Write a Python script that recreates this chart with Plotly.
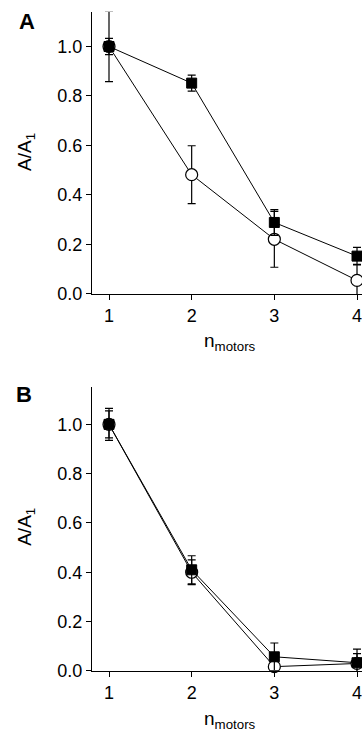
import plotly.graph_objects as go

n_motors = [1, 2, 3, 4]

# Panel A
a_filled = [1.0, 0.852, 0.289, 0.153]
a_filled_err = [0.033, 0.032, 0.052, 0.035]
a_open = [1.0, 0.482, 0.221, 0.055]
a_open_err = [0.142, 0.117, 0.113, 0.065]

# Panel B
b_filled = [1.0, 0.41, 0.057, 0.033]
b_filled_err = [0.065, 0.057, 0.056, 0.055]
b_open = [1.0, 0.40, 0.017, 0.03]
b_open_err = [0.055, 0.05, 0.03, 0.04]

y_ticks = [0.0, 0.2, 0.4, 0.6, 0.8, 1.0]
y_ticklabels = ["0.0", "0.2", "0.4", "0.6", "0.8", "1.0"]

FONT = "Liberation Sans, Arial, sans-serif"
W, H = 362, 743

fig = go.Figure()

def add_pair(xa, ya, filled, ferr, opn, oerr):
    fig.add_trace(go.Scatter(
        x=n_motors, y=opn, xaxis=xa, yaxis=ya, mode="lines+markers",
        line=dict(color="black", width=1),
        marker=dict(symbol="circle", size=12, color="white",
                    line=dict(color="black", width=1.2)),
        error_y=dict(type="data", array=oerr, visible=True, color="black",
                     thickness=1.2, width=4),
        cliponaxis=False, showlegend=False))
    fig.add_trace(go.Scatter(
        x=n_motors, y=filled, xaxis=xa, yaxis=ya, mode="lines+markers",
        line=dict(color="black", width=1),
        marker=dict(symbol="square", size=10, color="black",
                    line=dict(color="black", width=1)),
        error_y=dict(type="data", array=ferr, visible=True, color="black",
                     thickness=1.2, width=4),
        cliponaxis=False, showlegend=False))

add_pair("x", "y", a_filled, a_filled_err, a_open, a_open_err)
add_pair("x2", "y2", b_filled, b_filled_err, b_open, b_open_err)

xdom = [92 / W, 1.0]
xrange = [1 - (109 - 92) / 82.67, 1 + (362 - 109) / 82.67]

def yd(top_px, bottom_px):
    return [(H - bottom_px) / H, (H - top_px) / H]

axis_common = dict(showline=True, linecolor="black", linewidth=1.2,
                   ticks="outside", ticklen=5, tickwidth=1.2, tickcolor="black",
                   showgrid=False, zeroline=False, ticklabeloverflow="allow",
                   tickfont=dict(family=FONT, size=18, color="black"))

fig.update_layout(
    width=W, height=H,
    margin=dict(l=0, r=0, t=0, b=0),
    paper_bgcolor="white", plot_bgcolor="white",
    font=dict(family=FONT, size=18, color="black"),
    xaxis=dict(domain=xdom, range=xrange, anchor="y", tickvals=n_motors,
               ticktext=[str(v) for v in n_motors], **axis_common),
    yaxis=dict(domain=yd(12, 298), range=[0, 1.14], anchor="x",
               tickvals=y_ticks, ticktext=y_ticklabels, **axis_common),
    xaxis2=dict(domain=xdom, range=xrange, anchor="y2", tickvals=n_motors,
                ticktext=[str(v) for v in n_motors], **axis_common),
    yaxis2=dict(domain=yd(392.7, 680), range=[0, 1.15], anchor="x2",
                tickvals=y_ticks, ticktext=y_ticklabels, **axis_common),
)

def ann(text, x, y, size=18, bold=False, angle=0):
    fig.add_annotation(text=(f"<b>{text}</b>" if bold else text),
                       x=x / W, y=1 - y / H, xref="paper", yref="paper",
                       showarrow=False, xanchor="center", yanchor="middle",
                       textangle=angle,
                       font=dict(family=FONT, size=size, color="black"))

ann("A", 27, 22, size=22, bold=True)
ann("B", 24, 400, size=22, bold=True)
ann("A/A<sub>1</sub>", 26, 154, size=19, angle=-90)
ann("A/A<sub>1</sub>", 26, 534, size=19, angle=-90)
ann("n<sub>motors</sub>", 230, 347, size=19)
ann("n<sub>motors</sub>", 230, 730, size=19)

fig.write_html("out.html", config={"displayModeBar": False},
               post_script="document.body.style.margin='0';document.body.style.overflow='hidden';")
